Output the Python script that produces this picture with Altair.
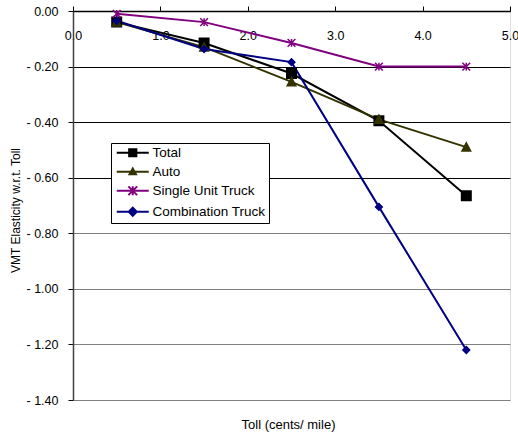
import altair as alt
import pandas as pd

# ---- data ----
toll = [0.5, 1.5, 2.5, 3.5, 4.5]
total = [-0.04, -0.115, -0.225, -0.395, -0.665]
auto = [-0.04, -0.13, -0.255, -0.39, -0.49]
single_unit = [-0.01, -0.04, -0.115, -0.20, -0.20]
combination = [-0.035, -0.137, -0.184, -0.705, -1.22]

series_names = ["Total", "Auto", "Single Unit Truck", "Combination Truck"]
series_values = [total, auto, single_unit, combination]

y_ticks = [0.0, -0.2, -0.4, -0.6, -0.8, -1.0, -1.2, -1.4]
x_ticks = [0.0, 1.0, 2.0, 3.0, 4.0, 5.0]

# ---- styles ----
colors = ["#000000", "#333300", "#800080", "#000080"]
marker_paths = [
    "M-1,-1H1V1H-1Z",
    "M0,-1L1,0.9H-1Z",
    "M0,-1V1M-1,-1L1,1M-1,1L1,-1",
    "M0,-1L1,0L0,1L-1,0Z",
]
marker_sizes = [90, 45, 130, 110]
legend_paths = [
    "M-1,0H7M2.1,-0.9H3.9V0.9H2.1Z",
    "M-1,0H7M3,-0.8L3.8,0.6H2.2Z",
    "M-1,0H7M3,-1.1V1.1M1.9,-1.1L4.1,1.1M1.9,1.1L4.1,-1.1",
    "M-1,0H7M3,-1L4,0L3,1L2,0Z",
]

rows = []
for name, vals in zip(series_names, series_values):
    for t, v in zip(toll, vals):
        rows.append({"toll": t, "value": v, "series": name})
df = pd.DataFrame(rows)

FONT = "Liberation Sans"

x_enc = alt.X(
    "toll:Q",
    scale=alt.Scale(domain=[0, 5], nice=False, zero=False),
    axis=alt.Axis(
        orient="top", values=x_ticks, format=".1f", grid=False, title=None,
        domainColor="#000000", domainWidth=1.5, tickColor="#000000", tickSize=5,
        tickWidth=1, labelPadding=-29, labelBaseline="middle", labelFlush=False,
        labelOverlap=False, labelFont=FONT, labelFontSize=12.5, labelColor="#000000",
    ),
)
y_enc = alt.Y(
    "value:Q",
    scale=alt.Scale(domain=[-1.4, 0], nice=False, zero=False),
    axis=alt.Axis(
        values=y_ticks, grid=True,
        gridColor={"condition": {"test": "datum.value > -0.7", "value": "#000000"}, "value": "#808080"},
        gridWidth=1,
        labelExpr="datum.value == 0 ? '0.00' : '- ' + format(-datum.value, '.2f')",
        domainColor="#404040", domainWidth=1.5, tickColor="#000000", tickSize=5,
        labelPadding=10, labelFont=FONT, labelFontSize=12.5, labelColor="#000000",
        title="VMT Elasticity w.r.t. Toll", titleFont=FONT, titleFontSize=12,
        titleFontWeight="normal", titleColor="#000000", titleX=-58, titleY=199,
        titleAngle=270, titleAlign="center", titleBaseline="middle",
    ),
)

color_scale = alt.Scale(domain=series_names, range=colors)

lines = alt.Chart(df).mark_line(strokeWidth=2).encode(
    x=x_enc, y=y_enc,
    stroke=alt.Stroke("series:N", scale=color_scale, legend=None, sort=series_names),
)

points = alt.Chart(df).mark_point(filled=True, opacity=1, strokeWidth=1.5).encode(
    x=x_enc, y=y_enc,
    fill=alt.Fill("series:N", scale=color_scale, legend=None),
    stroke=alt.Stroke("series:N", scale=color_scale, legend=None),
    shape=alt.Shape("series:N", scale=alt.Scale(domain=series_names, range=marker_paths), legend=None),
    size=alt.Size("series:N", scale=alt.Scale(domain=series_names, range=marker_sizes), legend=None),
)

legend = alt.Legend(
    title=None, orient="none", legendX=38, legendY=132, padding=3,
    strokeColor="#000000", fillColor="#ffffff", cornerRadius=0,
    symbolSize=64, symbolStrokeWidth=2, labelFont=FONT, labelFontSize=13.5,
    labelColor="#000000", labelOffset=25, rowPadding=3,
)

legend_layer = alt.Chart(df).transform_filter("false").mark_point(
    filled=True, opacity=1, strokeWidth=2
).encode(
    fill=alt.Fill("series:N", scale=color_scale, legend=legend, sort=series_names),
    stroke=alt.Stroke("series:N", scale=color_scale, legend=legend, sort=series_names),
    shape=alt.Shape("series:N", scale=alt.Scale(domain=series_names, range=legend_paths),
                    legend=legend, sort=series_names),
)

chart = alt.layer(lines, points, legend_layer).resolve_scale(
    fill="independent", stroke="independent", shape="independent", size="independent"
).properties(
    width=437, height=389,
    padding={"left": 73, "top": 11, "right": 8, "bottom": 35},
    autosize=alt.AutoSizeParams(type="none"),
    title=alt.TitleParams(
        text="Toll (cents/ mile)", orient="bottom", anchor="middle", font=FONT,
        fontSize=13, fontWeight="normal", color="#000000", offset=12, dx=-3,
    ),
).configure_view(stroke="#808080", strokeWidth=1).configure(background="#ffffff")

chart.save("out.html", embed_options={"renderer": "svg", "actions": False})
